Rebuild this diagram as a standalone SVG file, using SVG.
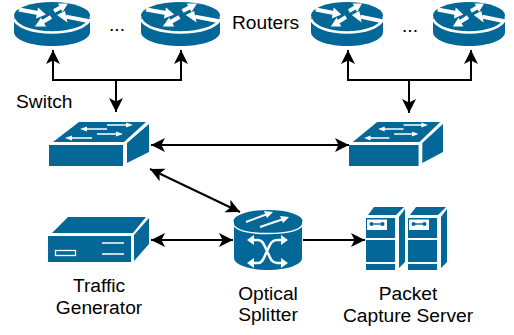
<svg xmlns="http://www.w3.org/2000/svg" xmlns:xlink="http://www.w3.org/1999/xlink" width="514" height="335" viewBox="0 0 514 335">
<style>
text{font-family:"Liberation Sans",Arial,sans-serif;font-size:19.2px;fill:#000}
.m{text-anchor:middle}
.b{fill:#036897}
.w{fill:#fff}
.ws{fill:none;stroke:#fff;stroke-width:1.5}
.c{fill:none;stroke:#000;stroke-width:2}
</style>
<defs>
<marker id="a" markerUnits="userSpaceOnUse" markerWidth="16" markerHeight="16" refX="14" refY="7" orient="auto-start-reverse" viewBox="0 0 16 14"><path d="M0 0L14 7L0 14L3.500 7Z" fill="#000"/></marker>
<symbol id="router" viewBox="0 0 76 44" preserveAspectRatio="none" overflow="visible">
<path class="b" d="M0 16V30C0 38 17 44 38 44S76 38 76 30V16Z"/>
<ellipse class="b" cx="38" cy="13.500" rx="38" ry="13.500"/>
<path d="M0 17C3 25 19 30.500 38 30.500S73 25 76 17" fill="none" stroke="#fff" stroke-width="2.500"/>
<path d="M5 7.500L24 11M40 9L47 5.300M52 14.600L74 19M29 19.800L37 15" fill="none" stroke="#fff" stroke-width="4"/>
<path class="w" d="M32 12.500L22 16.500L24 5.600ZM54 1.500L48.500 10L44 1.500ZM43 13L53.500 20.500L51 9ZM21 24.500L32 24.500L27 15.400Z"/>
</symbol>
<symbol id="switch" viewBox="0 0 100 44" preserveAspectRatio="none" overflow="visible">
<path class="b" d="M0 23H74V44H0ZM4 20L30 0H97L75 20ZM78 21L100 2V30L78 41Z"/>
<path d="M58 3H80M37 7H58M48 12H70M22 16H43" fill="none" stroke="#fff" stroke-width="1.300"/>
<path class="w" d="M84 3L77 0.500V5.500ZM31 7L38 4.500V9.500ZM74 12L67 9.500V14.500ZM16 16L23 13.500V18.500Z"/>
</symbol>
<symbol id="server" viewBox="0 0 39 63" preserveAspectRatio="none" overflow="visible">
<path class="b" d="M2 8L8 0H38L30 8ZM33 10L39 2V55L33 61ZM0 11H29V63H0Z"/>
<path class="w" d="M0 31H29V33H0ZM0 55H29V57H0ZM1 12.500H21V23H1Z"/>
<path class="b" d="M5 16.300H17V17.700H5Z"/>
<circle class="b" cx="5.500" cy="17" r="2"/><circle class="b" cx="16.500" cy="17" r="2"/>
</symbol>
</defs>

<g id="connectors">
<path class="c" d="M53 50V80H181V50" marker-start="url(#a)" marker-end="url(#a)"/>
<path class="c" d="M116 80V112" marker-end="url(#a)"/>
<path class="c" d="M348 50V80H471V50" marker-start="url(#a)" marker-end="url(#a)"/>
<path class="c" d="M409 80V113" marker-end="url(#a)"/>
<path class="c" d="M151 145H349" marker-start="url(#a)" marker-end="url(#a)"/>
<path class="c" d="M150 169L240 212" marker-start="url(#a)" marker-end="url(#a)"/>
<path class="c" d="M151 240H233" marker-start="url(#a)" marker-end="url(#a)"/>
<path class="c" d="M303 240H365" marker-end="url(#a)"/>
</g>

<g id="router1"><use href="#router" xlink:href="#router" x="14" y="2" width="76" height="44"/></g>
<g id="router2"><use href="#router" xlink:href="#router" x="141" y="2" width="79" height="44"/></g>
<g id="router3"><use href="#router" xlink:href="#router" x="311" y="2" width="72" height="44"/></g>
<g id="router4"><use href="#router" xlink:href="#router" x="433" y="2" width="72" height="44"/></g>
<text x="109" y="31">...</text>
<text x="402" y="32">...</text>
<text x="232" y="29">Routers</text>
<text x="16" y="108">Switch</text>

<g id="switch1"><use href="#switch" xlink:href="#switch" x="49" y="122" width="100" height="44"/></g>
<g id="switch2"><use href="#switch" xlink:href="#switch" x="349" y="122" width="94" height="44"/></g>

<g id="generator">
<path class="b" d="M48 236H131V262H48ZM52 233L68 217H146L133 233ZM134 235L149 218V244L134 261Z"/>
<rect x="55.500" y="250.500" width="20" height="5" fill="none" stroke="#fff" stroke-width="1.300"/>
<path class="ws" d="M102 243H124M102 254H124"/>
</g>
<text class="m" x="99" y="292">Traffic</text>
<text class="m" x="99" y="314">Generator</text>

<g id="splitter">
<path class="b" d="M234 222V258C234 265 250 270 268 270S302 265 302 258V222Z"/>
<ellipse class="b" cx="268" cy="221" rx="34.500" ry="11"/>
<path d="M233 224C236 231 250 233.500 268 233.500S300 231 303 224" fill="none" stroke="#fff" stroke-width="1.500"/>
<path d="M246 222L266 214.500M260 227L282 219.500" fill="none" stroke="#fff" stroke-width="2"/>
<path class="w" d="M273 212L264 211L267 218ZM289 217L280 216L283 223Z"/>
<path d="M252 240H258C263 240 264 245 267 251S271 263 277 263H282M252 263H258C263 263 264 257 267 251S271 240 277 240H282" fill="none" stroke="#fff" stroke-width="2.500"/>
<path class="w" d="M254 235V245L247 240ZM281 235L288 240L281 245ZM254 258V268L247 263ZM281 258L288 263L281 268Z"/>
</g>
<text class="m" x="268" y="300">Optical</text>
<text class="m" x="268" y="321">Splitter</text>

<g id="server1"><use href="#server" xlink:href="#server" x="366" y="207" width="39" height="63"/></g>
<g id="server2"><use href="#server" xlink:href="#server" x="408" y="207" width="39" height="63"/></g>
<text class="m" x="408" y="300">Packet</text>
<text class="m" x="408" y="322">Capture Server</text>
</svg>
